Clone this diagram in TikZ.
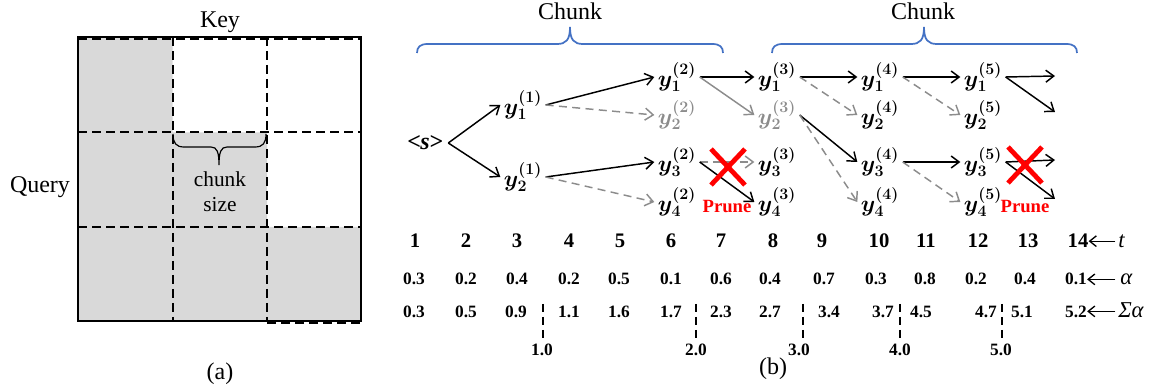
\documentclass[tikz,border=0pt]{standalone}
\usepackage{fontspec}
\setmainfont{Liberation Serif}
\usetikzlibrary{arrows.meta}
\definecolor{grayfill}{RGB}{217,217,217}
\definecolor{arrgray}{RGB}{140,140,140}
\definecolor{braceblue}{RGB}{68,114,196}
\definecolor{prunered}{RGB}{255,0,0}
\begin{document}
\begin{tikzpicture}[x=0.75pt,y=-0.75pt,
 bigtext/.style={font=\fontsize{18}{21}\selectfont, inner sep=0pt, anchor=base},
 midtext/.style={font=\fontsize{16}{19}\selectfont, inner sep=0pt, anchor=base},
 ylab/.style={font=\fontsize{16.5}{19}\selectfont\boldmath, inner sep=2.5pt},
 glab/.style={ylab, text=arrgray},
 blk/.style={draw=black, line width=1.1pt, -{Straight Barb[length=6pt,width=9pt]}},
 gry/.style={blk, draw=arrgray},
 grd/.style={gry, dash pattern=on 6pt off 4pt},
 trow/.style={font=\fontsize{15.5}{18}\selectfont\bfseries, inner sep=0pt, anchor=base},
 arow/.style={font=\fontsize{13}{16}\selectfont\bfseries, inner sep=0pt, anchor=base},
 rlab/.style={font=\fontsize{17}{20}\selectfont\itshape, inner sep=0pt, anchor=base west},
 rarr/.style={line width=1pt, shorten <=2pt, -{Straight Barb[length=5pt,width=8pt]}},
 griddash/.style={line width=1.5pt, dash pattern=on 6.5pt off 4pt},
 vdash/.style={line width=1.5pt, dash pattern=on 6pt off 3.75pt},
 bluebrace/.style={draw=braceblue, line width=1.3pt},
 blackbrace/.style={draw=black, line width=0.9pt},
 redx/.style={draw=prunered, line width=3.6pt},
 prune/.style={font=\fontsize{14}{16}\selectfont\bfseries, text=prunered, inner sep=0pt, anchor=base},
]
\useasboundingbox (0,0) rectangle (1153,388);

% ---------- (a) attention mask ----------
\fill[grayfill] (78,37) -- (172.5,37) -- (172.5,132.5) -- (267,132.5) -- (267,227)
  -- (361,227) -- (361,321) -- (78,321) -- cycle;
\draw[griddash] (172.5,37) -- (172.5,321);
\draw[griddash] (267,37) -- (267,321);
\draw[griddash] (78,132.5) -- (361,132.5);
\draw[griddash] (78,227) -- (361,227);
\draw[griddash] (78,39) -- (361,39);
\draw[griddash] (267,323.5) -- (361,323.5);
\draw[line width=1.5pt] (78,37) rectangle (361,321);
\draw[blackbrace] (173,134) .. controls (173,143) and (176,147) .. (184,147) -- (211,147)
  .. controls (217,147) and (219,152) .. (219,165)
  .. controls (219,152) and (221,147) .. (227,147) -- (255,147)
  .. controls (263,147) and (266,143) .. (266,134);
\node[bigtext] (key) at (220,28) {Key};
\node[bigtext] (query) at (40,193) {Query};
\node[midtext] (cs1) at (220,187) {chunk};
\node[midtext] (cs2) at (220,212) {size};
\node[bigtext] (capa) at (220,379) {(a)};

% ---------- (b) chunks ----------
\draw[bluebrace] (417,53) .. controls (417,47) and (420,44) .. (428,44) -- (557,44)
  .. controls (566,44) and (570,40) .. (570,27)
  .. controls (570,40) and (574,44) .. (583,44) -- (712,44)
  .. controls (720,44) and (723,47) .. (723,53);
\draw[bluebrace] (772,53) .. controls (772,47) and (775,44) .. (783,44) -- (911,44)
  .. controls (920,44) and (924,40) .. (924,27)
  .. controls (924,40) and (928,44) .. (937,44) -- (1066,44)
  .. controls (1074,44) and (1077,47) .. (1077,53);
\node[bigtext] (chunk1) at (570,20) {Chunk};
\node[bigtext] (chunk2) at (923,20) {Chunk};

% tree nodes
\node[font=\fontsize{18}{20}\selectfont\bfseries\itshape, inner sep=4pt] (s) at (425,143) {<\kern-0.5pt s\kern-0.5pt>};
\node[ylab] (n11) at (523,105) {$y^{(1)}_{1}$};
\node[ylab] (n12) at (523,177) {$y^{(1)}_{2}$};
\node[ylab] (n21) at (677,77) {$y^{(2)}_{1}$};
\node[glab] (n22) at (677,115) {$y^{(2)}_{2}$};
\node[ylab] (n23) at (677,162) {$y^{(2)}_{3}$};
\node[ylab] (n24) at (677,202) {$y^{(2)}_{4}$};
\node[ylab] (n31) at (777,77) {$y^{(3)}_{1}$};
\node[glab] (n32) at (777,115) {$y^{(3)}_{2}$};
\node[ylab] (n33) at (777,162) {$y^{(3)}_{3}$};
\node[ylab] (n34) at (777,202) {$y^{(3)}_{4}$};
\node[ylab] (n41) at (880,77) {$y^{(4)}_{1}$};
\node[ylab] (n42) at (880,115) {$y^{(4)}_{2}$};
\node[ylab] (n43) at (880,162) {$y^{(4)}_{3}$};
\node[ylab] (n44) at (880,202) {$y^{(4)}_{4}$};
\node[ylab] (n51) at (983,77) {$y^{(5)}_{1}$};
\node[ylab] (n52) at (983,115) {$y^{(5)}_{2}$};
\node[ylab] (n53) at (983,162) {$y^{(5)}_{3}$};
\node[ylab] (n54) at (983,202) {$y^{(5)}_{4}$};
\coordinate (e1) at (1055,76);
\coordinate (e2) at (1055,112);
\coordinate (e3) at (1055,160);
\coordinate (e4) at (1055,199);

\draw[blk] (s.east) -- (n11.west);
\draw[blk] (s.east) -- (n12.west);
\draw[blk] (n11.east) -- (n21.west);
\draw[grd] (n11.east) -- (n22.west);
\draw[blk] (n12.east) -- (n23.west);
\draw[grd] (n12.east) -- (n24.west);
\draw[blk] (n21.east) -- (n31.west);
\draw[gry] (n21.east) -- (n32.west);
\draw[grd] (n23.east) -- (n33.west);
\draw[blk] (n23.east) -- (n34.west);
\draw[blk] (n31.east) -- (n41.west);
\draw[grd] (n31.east) -- (n42.west);
\draw[blk] (n32.east) -- (n43.west);
\draw[grd] (n32.east) -- (n44.west);
\draw[blk] (n41.east) -- (n51.west);
\draw[grd] (n41.east) -- (n52.west);
\draw[blk] (n43.east) -- (n53.west);
\draw[grd] (n43.east) -- (n54.west);
\draw[blk] (n51.east) -- (e1);
\draw[blk] (n51.east) -- (e2);
\draw[blk] (n53.east) -- (e3);
\draw[blk] (n53.east) -- (e4);

% prune marks
\draw[redx] (711,149) -- (745,185) (745,149) -- (711,185);
\draw[redx] (1008,147) -- (1042,183) (1042,147) -- (1008,183);
\node[prune] (p1) at (727,213) {Prune};
\node[prune] (p2) at (1025,213) {Prune};

% rows
\foreach \x/\v [count=\i] in {415/1,466/2,517/3,569/4,620/5,671/6,721/7,773/8,822/9,879/10,926/11,978/12,1028/13,1078/14}
  \node[trow] (t\i) at (\x,248) {\v};
\foreach \x/\v [count=\i] in {414/0.3,466/0.2,517/0.4,569/0.2,619/0.5,671/0.1,721/0.6,770/0.4,824/0.7,876/0.3,925/0.8,976/0.2,1025/0.4,1076/0.1}
  \node[arow] (a\i) at (\x,285) {\v};
\foreach \x/\v [count=\i] in {414/0.3,466/0.5,516/0.9,569/1.1,619/1.6,671/1.7,721/2.3,770/2.7,829/3.4,883/3.7,921/4.5,986/4.7,1022/5.1,1076/5.2}
  \node[arow] (c\i) at (\x,317) {\v};
\node[rlab] (tl) at (1118,248) {t};
\node[rlab] (al) at (1120,285) {α};
\node[rlab] (sl) at (1118,317) {Σα};
\draw[rarr] (t14.east -| tl.west) -- (t14.east);
\draw[rarr] (a14.east -| tl.west) -- (a14.east);
\draw[rarr] (c14.east -| tl.west) -- (c14.east);

% cumulative markers
\foreach \x/\lx/\v [count=\i] in {543/542/1.0,696/696/2.0,803/799/3.0,900/900/4.0,1002/1001/5.0}{
  \node[arow] (m\i) at (\lx,355) {\v};
  \draw[vdash] (\x,304) -- (\x,338);
}
\node[bigtext] (capb) at (773,374) {(b)};
\end{tikzpicture}
\end{document}
